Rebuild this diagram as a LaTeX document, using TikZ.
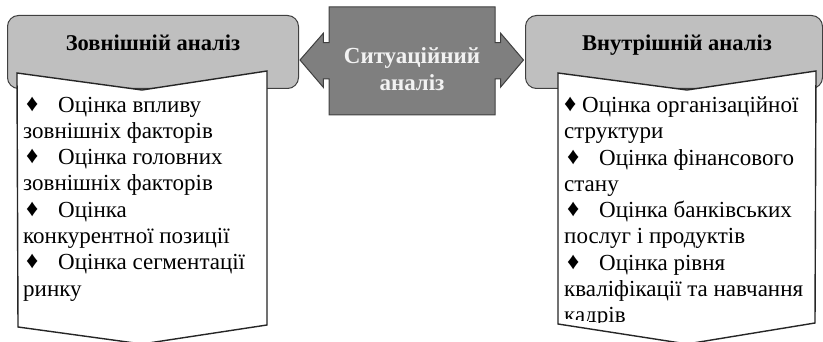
\documentclass[tikz,border=0pt]{standalone}
\usepackage{fontspec}
\setmainfont{Liberation Serif}
\definecolor{panelgrey}{HTML}{BFBFBF}
\definecolor{hubgrey}{HTML}{7F7F7F}
\definecolor{edgegrey}{HTML}{404040}
\newcommand\itm{\makebox[35pt][l]{\hspace{3pt}\raisebox{1pt}{\fontsize{24}{24}\selectfont ♦}}}
\newcommand\itmshort{\raisebox{1pt}{\fontsize{24}{24}\selectfont ♦}\ }
\begin{document}
\begin{tikzpicture}[x=1pt,y=-1pt,
  panel/.style={draw=edgegrey, fill=panelgrey, line width=1pt, rounded corners=11pt,
    inner sep=0pt, anchor=north west},
  title/.style={font=\fontsize{22.5}{26}\selectfont\bfseries, inner sep=0pt},
  hub/.style={draw=edgegrey, fill=hubgrey, line width=1pt},
  chevron/.style={draw=black!85, fill=white, line width=1.4pt, line join=miter},
  body/.style={font=\fontsize{23}{26.3}\selectfont, align=left, inner sep=0pt, anchor=north west}]
\useasboundingbox (0,0) rectangle (823,342);

% header panels
\node[panel, minimum width=291pt, minimum height=73pt] (extpanel) at (7,15) {};
\node[panel, minimum width=297pt, minimum height=73pt] (intpanel) at (525,15) {};
\node[title, anchor=base] (exttitle) at (153,51) {Зовнішній аналіз};
\node[title, anchor=base] (inttitle) at (677,51) {Внутрішній аналіз};

% central double arrow callout
\draw[hub] (329,7) -- (495,7) -- (495,42.7) -- (500.7,42.7) -- (500.7,33.3) -- (523.5,60)
  -- (500.7,87) -- (500.7,79) -- (495,79) -- (495,115) -- (329,115) -- (329,79)
  -- (323.3,79) -- (323.3,87.3) -- (300,60) -- (323.3,33.3) -- (323.3,42.7)
  -- (329,42.7) -- cycle;
\node[title, text=white!95!black, align=center, font=\fontsize{23}{27}\selectfont\bfseries]
  (hubtext) at (412,69) {Ситуаційний\\аналіз};

% content chevrons
\draw[chevron] (17,73) -- (142,90) -- (267,71) -- (267,325) -- (142,344) -- (18,327) -- cycle;
\draw[chevron] (558,73) -- (687,90) -- (816,71) -- (815,323) -- (687,344) -- (558,324) -- cycle;

\begin{scope}
  \clip (17,73) -- (142,90) -- (267,71) -- (267,320) -- (142,338) -- (18,321) -- cycle;
  \node[body] (extlist) at (23,96.5) {%
    \itm Оцінка впливу\\
    зовнішніх факторів\\
    \itm Оцінка головних\\
    зовнішніх факторів\\
    \itm Оцінка\\
    конкурентної позиції\\
    \itm Оцінка сегментації\\
    ринку};
\end{scope}

\begin{scope}
  \clip (558,73) -- (687,90) -- (816,71) -- (815,316) -- (687,334) -- (558,317) -- cycle;
  \node[body] (intlist) at (564,96.5) {%
    \itmshort Оцінка організаційної\\
    структури\\
    \itm Оцінка фінансового\\
    стану\\
    \itm Оцінка банківських\\
    послуг і продуктів\\
    \itm Оцінка рівня\\
    кваліфікації та навчання\\
    кадрів};
\end{scope}
\end{tikzpicture}
\end{document}
